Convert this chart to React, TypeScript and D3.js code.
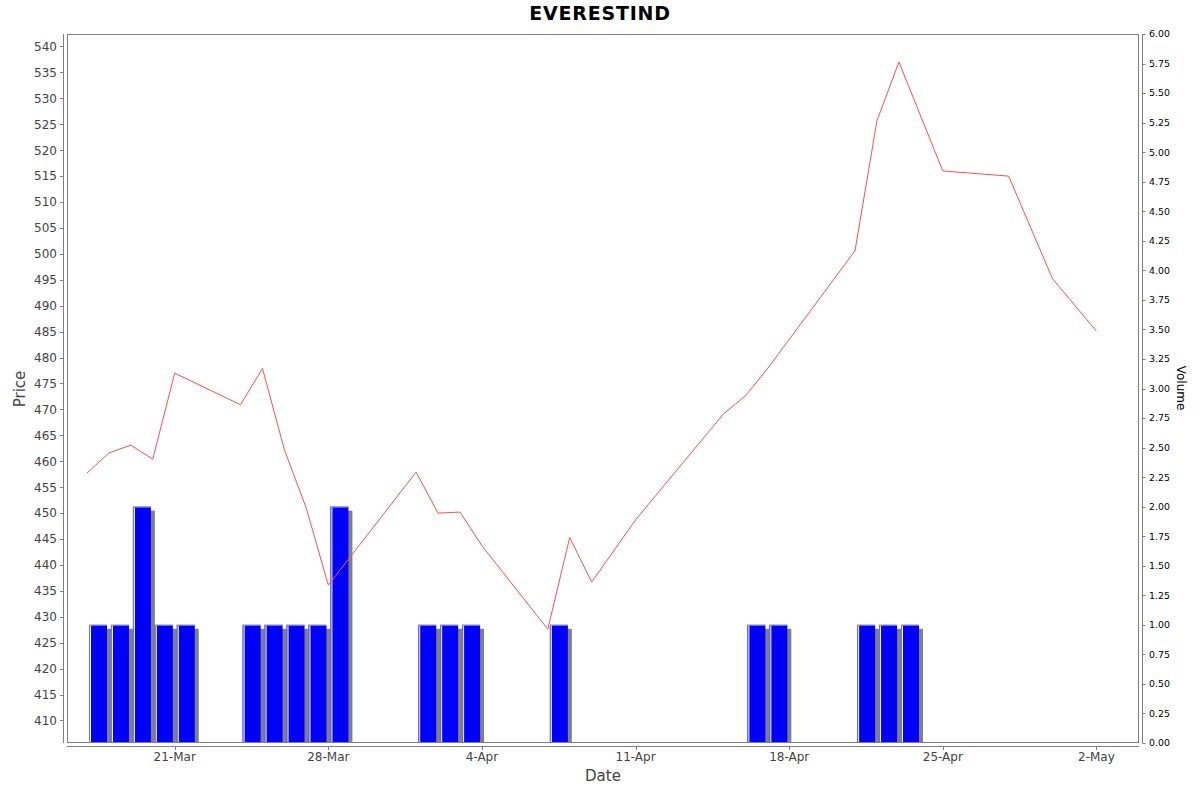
import React from "react";
import * as d3 from "d3";

const dates: string[] = [
  "2024-03-17", "2024-03-18", "2024-03-19", "2024-03-20", "2024-03-21",
  "2024-03-24", "2024-03-25", "2024-03-26", "2024-03-27", "2024-03-28",
  "2024-04-01", "2024-04-02", "2024-04-03", "2024-04-04", "2024-04-07",
  "2024-04-08", "2024-04-09", "2024-04-11", "2024-04-15", "2024-04-16",
  "2024-04-17", "2024-04-21", "2024-04-22", "2024-04-23", "2024-04-25",
  "2024-04-28", "2024-04-30", "2024-05-02",
];
const prices: number[] = [
  457.7, 461.6, 463.1, 460.4, 477.0,
  470.9, 477.9, 462.2, 450.9, 436.1,
  457.9, 450.0, 450.2, 443.7, 427.6,
  445.3, 436.7, 448.7, 469.1, 472.6,
  477.8, 500.6, 525.7, 537.0, 516.0,
  515.0, 495.2, 485.1,
];
const volumes: number[] = [
  1, 1, 2, 1, 1,
  1, 1, 1, 1, 2,
  1, 1, 1, 0, 1,
  0, 0, 0, 0, 1,
  1, 1, 1, 1, 0,
  0, 0, 0,
];
const dateTicks: string[] = [
  "2024-03-21", "2024-03-28", "2024-04-04", "2024-04-11",
  "2024-04-18", "2024-04-25", "2024-05-02",
];
const priceTicks: number[] = d3.range(410, 541, 5);
const volumeTicks: number[] = d3.range(0, 6.001, 0.25);

const W = 1200;
const H = 792;
const L = 67;
const R = 1139;
const T = 34;
const B = 743;
const DAY = 86400000;
const FONT = "'DejaVu Sans', sans-serif";

const parse = (s: string) => new Date(s + "T00:00:00Z");

export default function App() {
  const ds = dates.map(parse);
  const x = d3
    .scaleUtc()
    .domain([new Date(+ds[0] - 0.908 * DAY), new Date(+ds[ds.length - 1] + 1.94 * DAY)])
    .range([L, R]);
  const y = d3.scaleLinear().domain([405.66, 542.41]).range([B, T]);
  const yv = d3.scaleLinear().domain([0, 6]).range([B, T]);
  const fmt = d3.utcFormat("%-d-%b");

  const line = d3
    .line<number>()
    .x((_, i) => x(ds[i]))
    .y((p) => y(p));

  const dayW = x(new Date(+ds[0] + DAY)) - x(ds[0]);
  const barOff = dayW * 0.095;
  const barW = dayW * 0.82;

  return (
    <svg width={W} height={H} style={{ position: "absolute", left: 0, top: 0, background: "#fff" }}>
      <rect x={0} y={0} width={W} height={H} fill="#fff" />
      <text x={600} y={20} textAnchor="middle" fontFamily={FONT} fontWeight="bold" fontSize={19} letterSpacing={0.8} fill="#000">
        EVERESTIND
      </text>
      <defs>
        <clipPath id="plotclip">
          <rect x={L} y={T} width={R - L} height={B - T} />
        </clipPath>
      </defs>
      <g clipPath="url(#plotclip)">
        {volumes.map((v, i) => {
          if (v <= 0) return null;
          const bx = x(ds[i]) + barOff;
          const by = yv(v);
          const h = B - by;
          return (
            <g key={i}>
              <rect x={bx + 4} y={by + 4} width={barW} height={h} fill="#808080" />
              <rect x={bx} y={by} width={barW} height={h} fill="#0000ff" />
              <rect x={bx} y={by} width={1} height={h} fill="#7070ff" />
              <rect x={bx + 1} y={by} width={1} height={h} fill="#ffffff" />
              <rect x={bx} y={by} width={barW} height={1} fill="#8080ff" />
            </g>
          );
        })}
        <path d={line(prices) || ""} fill="none" stroke="#ff5050" strokeWidth={1} />
      </g>
      <rect x={L + 0.5} y={T + 0.5} width={R - L - 1} height={B - T - 1} fill="none" stroke="#808080" strokeWidth={1} />

      {/* left axis */}
      <line x1={63.5} x2={63.5} y1={T} y2={B} stroke="#808080" />
      {priceTicks.map((p) => (
        <g key={p}>
          <line x1={60} x2={63.5} y1={Math.round(y(p)) + 0.5} y2={Math.round(y(p)) + 0.5} stroke="#808080" />
          <text x={57} y={y(p)} dy="0.36em" textAnchor="end" fontFamily={FONT} fontSize={12} fill="#444">
            {p}
          </text>
        </g>
      ))}
      <text transform={`translate(25,389) rotate(-90)`} textAnchor="middle" fontFamily={FONT} fontSize={15} fill="#444">
        Price
      </text>

      {/* right axis */}
      <line x1={1142.5} x2={1142.5} y1={T} y2={B} stroke="#808080" />
      {volumeTicks.map((v) => (
        <g key={v}>
          <line x1={1142.5} x2={1145.5} y1={Math.round(yv(v)) + 0.5} y2={Math.round(yv(v)) + 0.5} stroke="#808080" />
          <text x={1149} y={yv(v)} dy="0.36em" textAnchor="start" fontFamily={FONT} fontSize={9.4} fill="#000">
            {v.toFixed(2)}
          </text>
        </g>
      ))}
      <text transform={`translate(1177,388) rotate(90)`} textAnchor="middle" fontFamily={FONT} fontSize={12} fill="#000">
        Volume
      </text>

      {/* bottom axis */}
      <line x1={L} x2={R} y1={746.5} y2={746.5} stroke="#808080" />
      {dateTicks.map((s) => {
        const d = parse(s);
        const tx = Math.round(x(d)) + 0.5;
        return (
          <g key={s}>
            <line x1={tx} x2={tx} y1={746.5} y2={750} stroke="#808080" />
            <text x={x(d)} y={761} textAnchor="middle" fontFamily={FONT} fontSize={12} fill="#444">
              {fmt(d)}
            </text>
          </g>
        );
      })}
      <text x={603} y={781} textAnchor="middle" fontFamily={FONT} fontSize={15} fill="#444">
        Date
      </text>
    </svg>
  );
}
